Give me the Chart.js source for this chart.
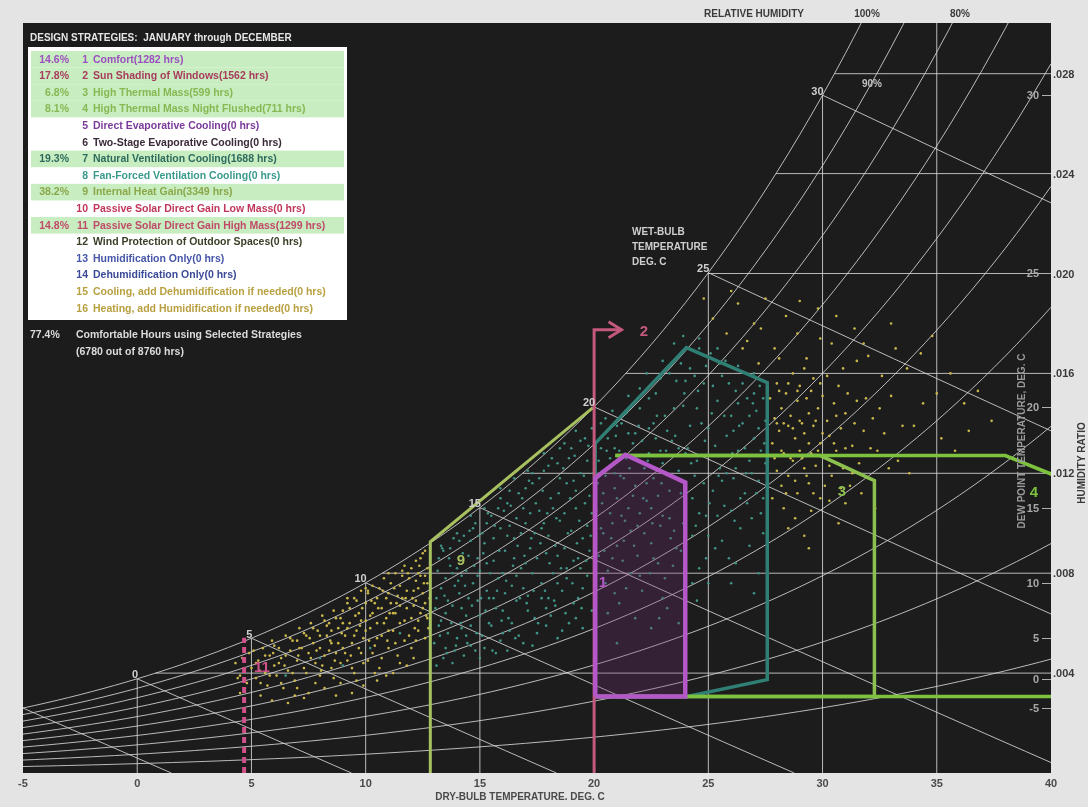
<!DOCTYPE html>
<html>
<head>
<meta charset="utf-8">
<title>Psychrometric Chart - Design Strategies</title>
<script src="https://cdn.jsdelivr.net/npm/chart.js@4.4.1/dist/chart.umd.min.js"></script>
<style>
  html, body { margin: 0; padding: 0; background: #e4e4e4; }
  #wrap { width: 1088px; height: 807px; position: relative; }
  canvas { display: block; }
</style>
</head>
<body>
<div id="wrap"><canvas id="psy" width="1088" height="807"></canvas></div>
<script>
// ---------------- axes / grid values ----------------
const dryBulbTicks = [-5, 0, 5, 10, 15, 20, 25, 30, 35, 40];
const dryBulbGrid = [0, 5, 10, 15, 20, 25, 30, 35];
const humidityRatioTicks = [0.004, 0.008, 0.012, 0.016, 0.020, 0.024, 0.028];
const humidityRatioLabels = ['.004', '.008', '.012', '.016', '.020', '.024', '.028'];
const dewPointTicks = [-5, 0, 5, 10, 15, 20, 25, 30];
const relHumidityLevels = [100, 90, 80, 70, 60, 50, 40, 30, 20, 10];
const wetBulbLines = [-5, 0, 5, 10, 15, 20, 25, 30];
const wetBulbLabels = [0, 5, 10, 15, 20, 25, 30];

// ---------------- design strategy legend ----------------
const strategyNumbers = [1, 2, 3, 4, 5, 6, 7, 8, 9, 10, 11, 12, 13, 14, 15, 16];
const strategyNames = [
  'Comfort', 'Sun Shading of Windows', 'High Thermal Mass', 'High Thermal Mass Night Flushed',
  'Direct Evaporative Cooling', 'Two-Stage Evaporative Cooling', 'Natural Ventilation Cooling',
  'Fan-Forced Ventilation Cooling', 'Internal Heat Gain', 'Passive Solar Direct Gain Low Mass',
  'Passive Solar Direct Gain High Mass', 'Wind Protection of Outdoor Spaces', 'Humidification Only',
  'Dehumidification Only', 'Cooling, add Dehumidification if needed', 'Heating, add Humidification if needed'
];
const strategyHours = [1282, 1562, 599, 711, 0, 0, 1688, 0, 3349, 0, 1299, 0, 0, 0, 0, 0];
const strategyPercent = ['14.6%', '17.8%', '6.8%', '8.1%', '', '', '19.3%', '', '38.2%', '', '14.8%', '', '', '', '', ''];
const strategyColors = ['#9c4fc0', '#a83c5e', '#86b853', '#86b853', '#7a3b99', '#3a2a3a', '#2e6b5e', '#3a9a8c',
  '#8aa84a', '#c0365a', '#c04a6a', '#3a4028', '#4656a8', '#3a4a96', '#b8a040', '#b8a040'];
const comfortablePercent = '77.4%';
const comfortableHours = 6780;
const totalHours = 8760;

// ---------------- strategy zones (dry-bulb °C, humidity ratio g/kg) ----------------
const comfortZone = [[20.05, 3.06], [20.05, 11.82], [21.37, 12.74], [23.99, 11.63], [23.99, 3.06], [20.05, 3.06]];
const sunShadingEdge = [[20.0, 0], [20.0, 17.75], [21.2, 17.75]];
const highMassZone = [[20.93, 12.71], [29.9, 12.71], [32.27, 11.71], [32.27, 3.06], [20.05, 3.06]];
const nightFlushTop = [[20.93, 12.71], [38.0, 12.71], [40.06, 11.95]];
const nightFlushBottom = [[20.05, 3.06], [40.0, 3.06]];
const naturalVentZone = [[20.05, 3.06], [20.05, 13.2], [24.04, 17.03], [27.58, 15.63], [27.58, 3.74], [24.08, 3.06], [20.05, 3.06]];
const internalGainZone = [[12.83, 0], [12.83, 9.26], [19.95, 14.63]];
const passiveSolarEdge = [[4.68, 0], [4.68, 5.42]];

// ---------------- hourly weather (dry-bulb °C, humidity ratio g/kg) ----------------
const coolHours = [
  [4.3,4.4],[4.5,3.9],[4.6,4.6],[4.8,3.6],[5.0,4.2],[5.1,4.9],[5.2,3.8],[5.3,4.5],[5.5,5.0],[5.6,4.0],
  [5.7,3.5],[5.8,4.7],[5.9,5.3],[6.0,4.3],[6.1,3.9],[6.2,5.0],[6.3,4.6],[6.4,3.4],[6.5,5.5],[6.6,4.1],
  [6.7,4.9],[6.8,5.3],[6.9,3.7],[7.0,4.5],[7.1,5.8],[7.2,5.0],[7.3,4.2],[7.4,5.5],[7.5,3.2],[7.5,4.8],
  [7.6,6.0],[7.7,5.2],[7.8,4.4],[7.9,5.7],[8.0,3.9],[8.0,5.0],[8.1,6.3],[8.2,4.7],[8.3,5.5],[8.4,6.0],
  [8.5,4.2],[8.5,5.2],[8.6,6.5],[8.7,4.8],[8.8,5.8],[8.9,3.6],[8.9,6.2],[9.0,5.0],[9.1,5.5],[9.2,6.8],
  [9.2,4.5],[9.3,6.0],[9.4,5.2],[9.5,7.0],[9.5,4.0],[9.6,5.7],[9.7,6.4],[9.8,4.8],[9.8,7.3],[9.9,5.4],
  [10.0,6.1],[10.0,6.8],[10.1,4.5],[10.2,5.8],[10.3,7.5],[10.3,6.4],[10.4,5.1],[10.5,7.0],[10.5,6.0],[10.6,4.2],
  [10.7,6.6],[10.7,5.5],[10.8,7.8],[10.9,6.2],[11.0,5.0],[11.0,7.2],[11.1,6.8],[11.2,5.7],[11.3,8.0],[11.3,6.4],
  [11.4,4.7],[11.5,7.5],[11.5,6.0],[11.6,7.0],[11.7,5.3],[11.7,8.3],[11.8,6.6],[11.9,7.8],[12.0,6.2],[12.0,5.0],
  [12.1,7.3],[12.2,8.5],[12.2,6.9],[12.3,5.7],[12.4,7.9],[12.4,6.4],[12.5,8.8],[12.5,7.2],[12.6,5.4],[12.6,6.8],
  [12.7,8.2],[12.7,7.6],[12.1,4.6],[11.8,4.3],[10.9,3.9],[9.9,3.5],[8.7,3.1],[7.3,3.0],[6.6,2.8],[5.4,3.1],
  [4.5,3.2],[9.4,3.2],[10.5,3.7],[11.2,4.0],[9.0,6.5],[10.1,7.2],[11.6,7.9],[12.3,8.0],[8.3,5.9],[7.0,5.3],
  [4.4,3.8],[4.7,4.2],[4.9,4.8],[5.2,4.4],[5.4,3.6],[5.6,4.7],[5.8,3.9],[6.0,5.1],[6.2,4.4],[6.3,3.6],
  [6.5,4.7],[6.7,5.4],[6.8,4.0],[7.0,3.4],[7.1,5.0],[7.3,5.6],[7.4,4.0],[7.6,4.6],[7.7,5.8],[7.8,3.6],
  [8.0,5.5],[8.1,4.3],[8.2,6.1],[8.4,4.9],[8.5,5.7],[8.6,3.8],[8.7,6.2],[8.8,5.2],[8.9,4.4],[9.0,6.0],
  [9.1,4.8],[9.2,5.8],[9.3,6.6],[9.4,4.2],[9.5,5.5],[9.6,6.9],[9.7,5.0],[9.8,6.1],[9.9,4.4],[10.0,5.7],
  [10.1,7.3],[10.2,6.3],[10.3,4.8],[10.4,6.8],[10.5,5.4],[10.6,7.4],[10.7,4.6],[10.8,6.0],[10.9,7.0],[11.0,5.7],
  [11.1,7.6],[11.2,6.4],[11.3,5.2],[11.4,7.1],[11.5,6.7],[11.6,8.1],[11.7,6.1],[11.8,7.3],[11.9,5.5],[12.0,8.2],
  [12.1,6.7],[12.2,7.7],[12.3,6.1],[12.4,8.6],[12.5,6.6],[12.6,7.9],[12.7,6.2],[12.6,8.9],[12.2,5.3],[11.5,4.4],
  [10.4,4.0],[9.6,3.7],[8.2,3.4],[6.9,3.1],[5.9,2.9],[11.0,8.0],[10.0,7.4],[9.2,7.0],[12.8,7.0],[12.3,7.4],
  [7.05,4.7],[7.55,5.4],[8.05,4.1],[8.45,5.3],[8.95,5.6],[9.35,4.7],[9.75,5.9],[10.15,5.3],[10.55,6.6],[10.95,5.3],
  [11.35,6.8],[11.75,7.0],[12.15,5.8],[12.55,7.6],[12.75,5.8],[11.05,6.4],[10.25,6.9],[9.55,6.3],[8.65,4.5],[7.85,4.9],
  [6.45,4.3],[5.95,4.8],[5.35,4.1],[12.35,8.3],[11.85,8.0],[11.25,7.4],[12.05,7.0],[12.65,6.3],[9.85,6.6],[10.75,7.3]
];
const warmHours = [
  [27.7,15.0],[27.8,13.2],[27.9,14.2],[28.0,12.1],[28.0,15.6],[28.1,13.7],[28.2,11.5],[28.2,14.6],[28.3,12.8],[28.4,15.2],
  [28.5,13.9],[28.5,11.9],[28.6,14.3],[28.7,12.5],[28.7,16.0],[28.8,13.4],[28.9,14.9],[28.9,11.2],[29.0,12.9],[29.0,15.5],
  [29.1,14.0],[29.2,12.2],[29.2,13.6],[29.3,15.0],[29.4,11.6],[29.4,14.4],[29.5,12.8],[29.6,13.9],[29.6,15.8],[29.7,12.3],
  [29.8,14.6],[29.9,13.2],[29.9,11.0],[30.0,15.1],[30.1,12.7],[30.2,14.1],[30.3,13.5],[30.4,11.9],[30.5,14.8],[30.6,12.9],
  [30.7,15.5],[30.8,13.8],[30.9,12.2],[31.0,14.4],[31.2,11.5],[31.3,13.1],[31.5,14.9],[31.6,12.4],[31.8,13.7],[32.0,11.8],
  [32.2,14.2],[32.4,12.9],[32.7,13.6],[33.0,15.1],[33.3,12.5],[28.3,10.6],[29.5,10.5],[30.3,10.9],[28.8,10.2],[31.0,10.8],
  [28.5,9.8],[29.2,9.5],[25.2,18.2],[25.8,17.6],[26.3,18.8],[26.7,17.3],[27.0,18.0],[27.5,19.0],[27.9,17.0],[28.4,18.3],
  [28.9,17.6],[29.3,16.6],[29.8,18.6],[30.4,17.2],[30.9,16.2],[31.4,17.8],[32.0,16.7],[32.6,15.9],[33.2,17.0],[33.7,16.2],
  [34.3,16.8],[35.0,15.2],[35.6,16.0],[36.2,14.8],[36.4,13.7],[34.0,13.9],[35.2,13.4],[33.8,12.0],[31.5,16.5],[26.0,19.3],
  [24.8,19.0],[27.2,16.4],
  [27.8,11.0],[27.9,12.6],[28.0,14.0],[28.1,15.3],[28.2,12.9],[28.3,14.0],[28.4,11.2],[28.5,15.6],[28.6,12.6],[28.7,13.8],
  [28.8,11.7],[28.9,15.3],[29.0,14.1],[29.1,12.6],[29.2,16.2],[29.3,11.9],[29.4,13.2],[29.5,15.3],[29.6,11.2],[29.7,14.1],
  [29.8,12.9],[29.9,15.6],[30.0,13.6],[30.1,11.5],[30.2,15.9],[30.3,12.3],[30.5,13.2],[30.6,14.3],[30.8,11.4],[31.0,13.0],
  [31.1,15.2],[31.3,12.0],[31.4,14.0],[31.7,11.2],[31.9,15.0],[32.1,13.0],[32.5,14.6],[32.9,12.2],[33.5,13.9],[34.4,14.8],
  [26.5,17.0],[27.3,17.8],[28.1,16.6],[29.0,18.9],[29.9,17.4],[30.6,18.3],[31.8,17.2],[33.0,18.0],[34.8,17.5],[36.8,15.3],
  [37.4,14.1],[35.8,12.9],[32.3,10.6],[30.7,10.0],[29.4,9.0]
];
const mildHours = [
  [10.2,5.0],[9.0,4.3],[11.5,5.6],[8.0,4.6],[6.5,3.9],
  [13.0,5.2],[13.1,7.0],[13.2,8.6],[13.3,6.1],[13.4,4.6],[13.5,7.8],[13.6,5.6],[13.7,9.0],[13.8,6.7],[13.9,4.9],
  [14.0,8.2],[14.1,7.2],[14.2,5.8],[14.3,9.5],[14.4,6.3],[14.5,8.7],[14.6,5.1],[14.7,7.6],[14.8,10.0],[14.9,6.9],
  [15.0,8.1],[15.1,5.5],[15.2,9.2],[15.3,7.3],[15.4,6.0],[15.5,10.3],[15.6,8.5],[15.7,4.8],[15.8,7.8],[15.9,9.8],
  [16.0,6.5],[16.1,8.9],[16.2,10.8],[16.3,5.7],[16.4,7.5],[16.5,9.4],[16.6,6.9],[16.7,11.2],[16.8,8.2],[16.9,5.2],
  [17.0,10.0],[17.1,7.1],[17.2,9.0],[17.3,11.6],[17.4,6.2],[17.5,8.6],[17.6,10.5],[17.7,7.6],[17.8,12.1],[17.9,5.9],
  [18.0,9.5],[18.1,11.0],[18.2,8.0],[18.3,6.7],[18.4,12.4],[18.5,10.1],[18.6,7.3],[18.7,9.0],[18.8,11.6],[18.9,6.0],
  [19.0,13.0],[19.1,8.5],[19.2,10.6],[19.3,7.0],[19.4,12.0],[19.5,9.4],[19.6,13.4],[19.7,7.9],[19.8,11.1],[19.9,6.5],
  [13.5,6.4],[14.2,7.9],[14.9,8.6],[15.6,7.0],[16.3,9.9],[17.0,8.4],[17.7,9.8],[18.4,8.7],[19.1,11.7],[19.7,9.9],
  [14.6,9.3],[15.9,11.0],[17.3,12.0],[18.7,13.2],[16.6,7.9],[18.0,7.0],[19.4,8.2],[13.8,8.0],[15.3,10.0],[16.9,10.6],
  [13.1,4.3],[13.2,5.9],[13.3,7.4],[13.4,8.9],[13.5,5.0],[13.6,6.9],[13.7,8.3],[13.8,4.4],[13.9,7.5],[14.0,5.4],
  [14.1,9.3],[14.2,6.6],[14.3,4.7],[14.4,8.1],[14.5,7.0],[14.6,5.9],[14.7,9.8],[14.8,4.9],[14.9,7.9],[15.0,6.3],
  [15.1,9.6],[15.2,5.0],[15.3,8.4],[15.4,7.0],[15.5,5.9],[15.6,9.4],[15.7,6.6],[15.8,10.6],[15.9,5.3],[16.0,8.0],
  [16.1,7.2],[16.2,9.5],[16.3,11.3],[16.4,6.0],[16.5,8.6],[16.6,10.2],[16.7,5.5],[16.8,9.6],[16.9,7.4],[17.0,11.4],
  [17.1,6.5],[17.2,10.4],[17.3,8.0],[17.4,9.6],[17.5,5.6],[17.6,11.8],[17.7,7.0],[17.8,10.0],[17.9,8.8],[18.0,12.3],
  [18.1,6.3],[18.2,10.6],[18.3,9.1],[18.4,7.6],[18.5,11.8],[18.6,5.7],[18.7,10.4],[18.8,8.2],[18.9,12.6],[19.0,9.7],
  [19.1,6.8],[19.2,11.3],[19.3,8.6],[19.4,13.3],[19.5,7.4],[19.6,10.8],[19.7,12.5],[19.8,8.9],[19.9,13.8],[19.9,10.4],
  [13.3,9.1],[14.0,9.6],[14.6,10.3],[15.2,10.6],[15.9,11.4],[16.5,11.8],[17.1,12.1],[17.8,12.8],[18.5,13.0],[19.2,13.7],
  [15.0,4.6],[16.2,4.9],[17.3,5.1],[18.4,5.4],[19.5,5.8],[17.9,6.6],[16.0,5.6],[14.4,5.5],[19.2,6.2],[18.8,7.8],
  [13.05,6.6],[13.15,8.1],[13.25,5.5],[13.35,9.0],[13.45,7.1],[13.55,4.8],[13.65,8.6],[13.75,6.0],[13.85,9.4],[13.95,5.1],
  [14.05,7.7],[14.15,6.0],[14.25,8.8],[14.35,7.5],[14.45,5.2],[14.55,9.7],[14.65,6.7],[14.75,8.3],[14.85,5.6],[14.95,9.5],
  [15.05,7.0],[15.15,8.8],[15.25,6.5],[15.35,10.4],[15.45,8.0],[15.55,4.9],[15.65,9.9],[15.75,7.3],[15.85,8.9],[15.95,6.1],
  [16.05,10.5],[16.15,7.7],[16.25,6.2],[16.35,10.7],[16.45,8.3],[16.55,5.4],[16.65,9.1],[16.75,7.0],[16.85,11.0],[16.95,8.7],
  [17.05,6.8],[17.15,11.7],[17.25,9.4],[17.35,7.3],[17.45,10.8],[17.55,6.0],[17.65,9.2],[17.75,11.3],[17.85,7.3],[17.95,10.4],
  [18.05,8.4],[18.15,12.6],[18.25,6.9],[18.35,10.2],[18.45,11.2],[18.55,8.2],[18.65,12.2],[18.75,6.4],[18.85,9.6],[18.95,11.0],
  [19.05,7.6],[19.15,12.7],[19.25,9.2],[19.35,10.1],[19.45,6.6],[19.55,11.9],[19.65,8.5],[19.75,13.1],[19.85,9.5],[19.95,12.0],
  [20.2,12.5],[20.3,9.8],[20.4,11.2],[20.5,7.6],[20.6,13.4],[20.7,10.4],[20.8,8.6],[20.9,12.0],[21.0,11.0],[21.1,6.8],
  [21.2,14.0],[21.3,9.3],[21.4,12.6],[21.5,10.6],[21.6,8.0],[21.7,13.2],[21.8,11.5],[21.9,9.9],[22.0,14.6],[22.1,7.3],
  [22.2,12.2],[22.3,10.9],[22.4,13.8],[22.5,9.2],[22.6,11.8],[22.7,15.2],[22.8,8.4],[22.9,12.9],[23.0,10.3],[23.1,14.3],
  [23.2,6.6],[23.3,11.3],[23.4,13.3],[23.5,9.7],[23.6,15.7],[23.7,12.1],[23.8,8.9],[23.9,14.7],[24.0,10.8],
  [20.1,10.5],[20.2,8.7],[20.3,13.0],[20.4,9.6],[20.5,11.9],[20.6,8.1],[20.7,12.6],[20.8,10.0],[20.9,11.4],[21.0,9.1],
  [21.1,12.9],[21.2,10.3],[21.3,11.8],[21.4,7.4],[21.5,13.6],[21.6,9.7],[21.7,11.1],[21.8,12.6],[21.9,8.7],[22.0,10.4],
  [22.1,13.3],[22.2,9.6],[22.3,11.6],[22.4,12.8],[22.5,10.6],[22.6,8.6],[22.7,13.4],[22.8,11.1],[22.9,9.9],[23.0,12.4],
  [23.1,7.8],[23.2,13.7],[23.3,10.2],[23.4,11.9],[23.5,14.6],[23.6,9.0],[23.7,13.0],[23.8,11.2],[23.9,10.0],[24.0,12.8],
  [20.3,14.0],[20.8,14.5],[21.4,14.4],[22.0,15.4],[22.9,15.8],[23.3,16.0],[24.0,15.7],[21.0,13.9],[22.4,15.0],[23.9,17.5],
  [20.6,6.4],[21.8,6.2],[23.0,7.0],[23.7,6.0],[22.0,7.9],[20.9,7.2],
  [20.15,11.6],[20.35,10.8],[20.55,12.9],[20.75,9.4],[20.95,13.5],[21.15,11.9],[21.35,10.1],[21.55,12.2],[21.75,9.1],[21.95,13.9],
  [22.15,11.0],[22.35,12.5],[22.55,10.0],[22.75,14.3],[22.95,11.6],[23.15,12.9],[23.35,9.4],[23.55,13.5],[23.75,11.7],[23.95,15.2],
  [24.1,13.0],[24.2,16.2],[24.3,9.5],[24.4,11.9],[24.5,14.6],[24.6,8.2],[24.7,12.7],[24.8,15.6],[24.9,10.3],[25.0,13.8],
  [25.1,16.8],[25.2,11.3],[25.3,9.0],[25.4,14.9],[25.5,12.2],[25.6,15.9],[25.7,10.7],[25.8,13.5],[25.9,8.6],[26.0,14.3],
  [26.1,11.8],[26.2,15.3],[26.3,12.9],[26.4,9.8],[26.5,14.0],[26.6,11.2],[26.7,15.0],[26.8,12.5],[26.9,10.2],[27.0,13.4],
  [27.1,14.5],[27.2,11.7],[27.3,12.9],[27.4,9.6],[27.5,14.1],[25.0,7.6],[26.2,8.4],[24.5,6.9],[27.2,8.0],[22.5,5.8],
  [21.0,5.2],[20.5,14.2],[21.5,15.1],[22.3,16.0],[23.0,16.5],[23.5,17.2],[21.8,13.6],[20.9,13.0],[22.6,14.0],[23.8,16.4],
  [24.6,17.0],
  [24.2,13.9],[24.3,11.0],[24.4,15.9],[24.5,12.5],[24.6,10.4],[24.7,14.0],[24.8,11.6],[24.9,16.3],[25.0,9.5],[25.1,12.7],
  [25.2,15.5],[25.3,13.1],[25.4,10.3],[25.5,16.4],[25.6,11.7],[25.7,14.3],[25.8,12.0],[25.9,15.6],[26.0,10.5],[26.1,13.7],
  [26.2,12.2],[26.3,14.8],[26.4,11.0],[26.5,15.6],[26.6,13.0],[26.7,10.8],[26.8,14.3],[26.9,12.0],[27.0,15.2],[27.1,11.2],
  [27.2,13.8],[27.3,10.4],[27.4,15.0],[27.5,12.4],[24.6,17.4],[25.4,17.0],[26.3,16.3],[27.0,16.0],[25.6,9.3],[26.8,9.1],
  [24.9,8.6],[27.4,11.0],[26.0,7.6],[27.0,7.2],[24.3,7.6],
  [24.25,12.4],[24.55,15.3],[24.85,13.3],[25.15,14.4],[25.45,11.9],[25.75,16.5],[26.05,12.8],[26.35,13.9],[26.65,12.0],[26.95,14.8],
  [27.25,15.5],[27.45,13.2],[25.05,10.8],[26.15,10.1],[24.45,9.9],[21.25,8.5],[22.45,8.0],[23.45,8.3],[20.45,8.9],[22.85,6.2]
];

// ---------------- psychrometrics (sea level) ----------------
const P_ATM = 101.325;
function satPressure(t) { return 0.61094 * Math.exp(17.625 * t / (t + 243.04)); }
function humidityRatio(pw) { return 0.621945 * pw / (P_ATM - pw); }
function satRatio(t) { return humidityRatio(satPressure(t)); }
function dewPointOf(w) {
  const pw = P_ATM * w / (0.621945 + w);
  const g = Math.log(pw / 0.61094);
  return 243.04 * g / (17.625 - g);
}
function wetBulbRatio(t, twb) {
  const ws = satRatio(twb);
  return ((2501 - 2.326 * twb) * ws - 1.006 * (t - twb)) / (2501 + 1.86 * t - 4.186 * twb);
}

const GRID = 'rgba(214,214,214,0.85)';
const X_MIN = -5, X_MAX = 40, W_MAX = 0.03003;

function gridDataset(points) {
  return { data: points, showLine: true, borderColor: GRID, borderWidth: 1, pointRadius: 0, order: 100 };
}
function toPoints(list) { return list.map(p => ({ x: p[0], y: p[1] / 1000 })); }

const datasets = [];
// relative humidity curves
relHumidityLevels.forEach(rh => {
  const pts = [];
  for (let t = X_MIN; t <= X_MAX + 0.01; t += 0.5) pts.push({ x: t, y: humidityRatio(rh / 100 * satPressure(t)) });
  datasets.push(gridDataset(pts));
});
// wet-bulb lines
wetBulbLines.forEach(twb => {
  const tEnd = twb + (2501 - 2.326 * twb) * satRatio(twb) / 1.006;
  const pts = [];
  const steps = 12;
  for (let i = 0; i <= steps; i++) {
    const t = twb + (tEnd - twb) * i / steps;
    pts.push({ x: t, y: Math.max(0, wetBulbRatio(t, twb)) });
  }
  datasets.push(gridDataset(pts));
});
// dry-bulb verticals up to saturation
dryBulbGrid.forEach(t => datasets.push(gridDataset([{ x: t, y: 0 }, { x: t, y: satRatio(t) }])));
// humidity-ratio horizontals from saturation
humidityRatioTicks.forEach(w => datasets.push(gridDataset([{ x: dewPointOf(w), y: w }, { x: X_MAX, y: w }])));

// hourly weather points
function dotDataset(list, color, order) {
  return { data: toPoints(list), showLine: false, pointRadius: 1.3, pointBorderWidth: 0,
    pointBackgroundColor: color, pointBorderColor: color, order };
}
datasets.push(dotDataset(coolHours, '#cbb84c', 50));
datasets.push(dotDataset(warmHours, '#cbb84c', 49));
datasets.push(dotDataset(mildHours, '#3f9486', 48));

// strategy zones
function zoneDataset(list, color, width, order, extra) {
  return Object.assign({ data: toPoints(list), showLine: true, borderColor: color, borderWidth: width,
    pointRadius: 0, order, borderJoinStyle: 'miter' }, extra || {});
}
datasets.push(zoneDataset(internalGainZone, '#a8c060', 3, 12));
datasets.push(zoneDataset(naturalVentZone, '#2f7f74', 3.5, 11));
datasets.push(zoneDataset(highMassZone, '#8cc04e', 3.5, 10));
datasets.push(zoneDataset(nightFlushTop, '#7dc23e', 3.5, 9));
datasets.push(zoneDataset(nightFlushBottom, '#7dc23e', 3.5, 8));
datasets.push(zoneDataset(sunShadingEdge, '#c4587e', 3, 6, { label: 'sunShading' }));
datasets.push(zoneDataset(passiveSolarEdge, '#d0508a', 4, 5, { borderDash: [6, 4] }));
datasets.push(zoneDataset(comfortZone, '#b458c8', 4.5, 1, { label: 'comfort' }));

const FONT = '"Liberation Sans", Arial, sans-serif';

const decorPlugin = {
  id: 'psyDecor',
  beforeDraw(chart) {
    const { ctx, chartArea: a } = chart;
    ctx.save();
    ctx.fillStyle = '#e4e4e4';
    ctx.fillRect(0, 0, chart.width, chart.height);
    ctx.fillStyle = '#1c1c1c';
    ctx.fillRect(a.left, a.top, a.right - a.left, a.bottom - a.top);
    ctx.restore();
  },
  beforeDatasetDraw(chart, args) {
    const ds = chart.data.datasets[args.index];
    if (ds.label !== 'comfort') return;
    const { ctx, scales: { x, y }, chartArea: a } = chart;
    ctx.save();
    ctx.beginPath();
    ctx.rect(a.left, a.top, a.right - a.left, a.bottom - a.top);
    ctx.clip();
    ctx.beginPath();
    comfortZone.forEach((p, i) => {
      const px = x.getPixelForValue(p[0]), py = y.getPixelForValue(p[1] / 1000);
      if (i === 0) ctx.moveTo(px, py); else ctx.lineTo(px, py);
    });
    ctx.closePath();
    ctx.fillStyle = 'rgba(115,45,120,0.28)';
    ctx.fill();
    ctx.restore();
  },
  afterDraw(chart) {
    const { ctx, scales: { x, y }, chartArea: a } = chart;
    ctx.save();
    const X = v => x.getPixelForValue(v);
    const Y = w => y.getPixelForValue(w);

    // arrow head on sun shading line
    const tip = sunShadingEdge[sunShadingEdge.length - 1];
    const tx = X(tip[0]), ty = Y(tip[1] / 1000);
    ctx.strokeStyle = '#c4587e'; ctx.lineWidth = 3; ctx.lineJoin = 'miter';
    ctx.beginPath();
    ctx.moveTo(tx - 13, ty - 8); ctx.lineTo(tx, ty); ctx.lineTo(tx - 13, ty + 8);
    ctx.stroke();

    // x axis tick labels
    ctx.font = 'bold 11px ' + FONT;
    ctx.fillStyle = '#4a4a4a';
    ctx.textAlign = 'center'; ctx.textBaseline = 'middle';
    dryBulbTicks.forEach(t => ctx.fillText(String(t), X(t), a.bottom + 11));
    ctx.font = 'bold 10px ' + FONT;
    ctx.fillText('DRY-BULB TEMPERATURE. DEG. C', 520, 797);

    // humidity ratio labels (outside right)
    ctx.textAlign = 'left';
    ctx.fillStyle = '#3a3a3a';
    ctx.font = 'bold 11px ' + FONT;
    humidityRatioTicks.forEach((w, i) => ctx.fillText(humidityRatioLabels[i], a.right + 2, Y(w) + 1));

    // dew point ticks and labels (inside right)
    ctx.strokeStyle = '#b0b0b0'; ctx.lineWidth = 1;
    ctx.fillStyle = '#a8a8a8';
    ctx.textAlign = 'right';
    dewPointTicks.forEach(t => {
      const py = Math.round(Y(satRatio(t))) + 0.5;
      ctx.beginPath(); ctx.moveTo(a.right - 9, py); ctx.lineTo(a.right, py); ctx.stroke();
      ctx.fillText(String(t), a.right - 12, py);
    });

    // wet-bulb labels on saturation curve
    ctx.fillStyle = '#cfcfcf';
    ctx.textBaseline = 'bottom';
    wetBulbLabels.forEach(t => ctx.fillText(String(t), X(t) + 1, Y(satRatio(t)) + 2));

    ctx.textAlign = 'left'; ctx.textBaseline = 'middle';
    ctx.font = 'bold 10px ' + FONT;
    ctx.fillStyle = '#cfcfcf';
    ctx.fillText('WET-BULB', 632, 232);
    ctx.fillText('TEMPERATURE', 632, 247);
    ctx.fillText('DEG. C', 632, 262);

    // relative humidity header
    ctx.fillStyle = '#3a3a3a';
    ctx.textAlign = 'center';
    ctx.fillText('RELATIVE HUMIDITY', 754, 14);
    ctx.fillText('100%', 867, 14);
    ctx.fillText('80%', 960, 14);
    ctx.fillStyle = '#c0c0c0';
    ctx.fillText('90%', 872, 84);

    // rotated axis titles
    ctx.save();
    ctx.translate(1082, 463); ctx.rotate(-Math.PI / 2);
    ctx.fillStyle = '#3a3a3a';
    ctx.fillText('HUMIDITY RATIO', 0, 0);
    ctx.restore();
    ctx.save();
    ctx.translate(1022, 441); ctx.rotate(-Math.PI / 2);
    ctx.fillStyle = '#9a9a9a';
    ctx.fillText('DEW POINT TEMPERATURE, DEG. C', 0, 0);
    ctx.restore();

    // zone numbers
    ctx.font = 'bold 15px ' + FONT;
    const zoneTags = [['1', 603, 583, '#b458c8'], ['2', 644, 332, '#c4587e'], ['3', 842, 492, '#8cc04e'],
      ['4', 1034, 493, '#7dc23e'], ['9', 461, 561, '#a8c060'], ['11', 262, 668, '#d0508a']];
    zoneTags.forEach(z => { ctx.fillStyle = z[3]; ctx.fillText(z[0], z[1], z[2]); });

    // strategy legend box
    ctx.font = 'bold 10px ' + FONT;
    ctx.textAlign = 'left';
    ctx.fillStyle = '#e6e6e6';
    ctx.fillText('DESIGN STRATEGIES:  JANUARY through DECEMBER', 30, 38);
    ctx.fillStyle = '#ffffff';
    ctx.fillRect(28, 47, 319, 273);
    ctx.font = 'bold 10.5px ' + FONT;
    const rowTop = 51, rowH = 16.6;
    strategyNumbers.forEach((n, i) => {
      const top = rowTop + i * rowH;
      if (strategyHours[i] > 0) {
        ctx.fillStyle = '#c8edc0';
        ctx.fillRect(31, top, 313, rowH);
      }
      const cy = top + rowH / 2 + 0.5;
      ctx.fillStyle = strategyColors[i];
      ctx.textAlign = 'right';
      if (strategyPercent[i]) ctx.fillText(strategyPercent[i], 69, cy);
      ctx.fillText(String(n), 88, cy);
      ctx.textAlign = 'left';
      ctx.fillText(strategyNames[i] + '(' + strategyHours[i] + ' hrs)', 93, cy);
    });

    ctx.fillStyle = '#dcdcdc';
    ctx.textAlign = 'left';
    ctx.fillText(comfortablePercent, 30, 335);
    ctx.fillText('Comfortable Hours using Selected Strategies', 76, 335);
    ctx.fillText('(' + comfortableHours + ' out of ' + totalHours + ' hrs)', 76, 352);
    ctx.restore();
  }
};

new Chart(document.getElementById('psy'), {
  type: 'scatter',
  data: { datasets },
  options: {
    responsive: false,
    animation: false,
    devicePixelRatio: 1,
    events: [],
    layout: { padding: { left: 23, top: 23, right: 37, bottom: 34 } },
    elements: { line: { tension: 0 } },
    scales: {
      x: { type: 'linear', min: X_MIN, max: X_MAX, display: false },
      y: { type: 'linear', min: 0, max: W_MAX, display: false }
    },
    plugins: { legend: { display: false }, tooltip: { enabled: false } }
  },
  plugins: [decorPlugin]
});
</script>
</body>
</html>
